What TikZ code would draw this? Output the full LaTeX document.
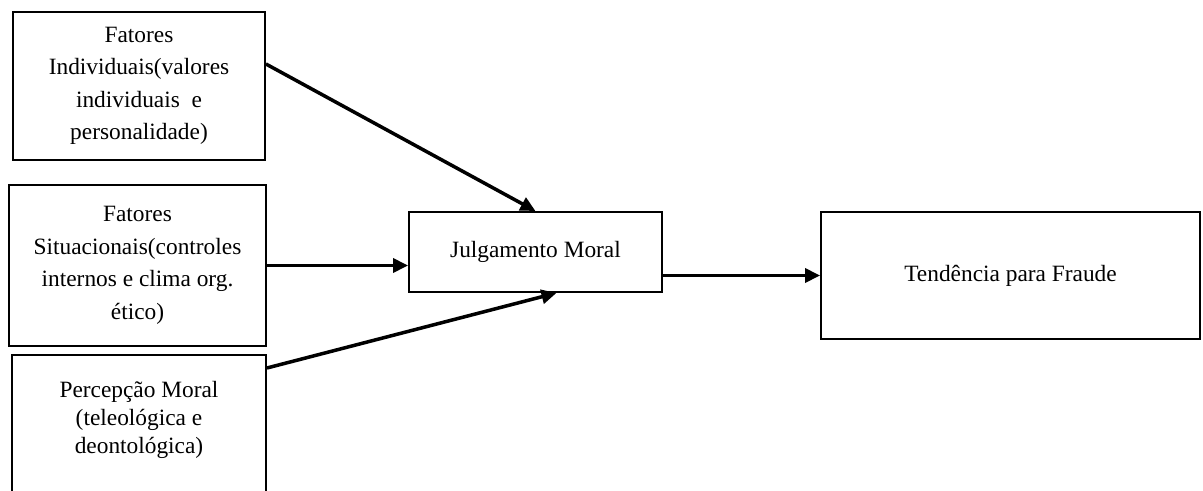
\documentclass[tikz,border=0pt]{standalone}
\usepackage{fontspec}
\setmainfont{Liberation Serif}
\usepackage{tikz}
\usetikzlibrary{positioning, arrows.meta, calc}

\begin{document}
\begin{tikzpicture}[x=0.02cm, y=-0.02cm,
  fator/.style={rectangle, draw=black, line width=1.1pt, align=center, font=\fontsize{13.3}{18.5}\selectfont, inner sep=0pt},
  seta/.style={-{Triangle[length=3mm, width=2.8mm]}, line width=2pt}]

\useasboundingbox (0,0) rectangle (1203,490);

% Fatores individuais
\node[fator, minimum width=5.04cm, minimum height=2.96cm] (indiv) at (139,86) {
    Fatores\\
    Individuais(valores\\
    individuais~ e\\
    personalidade)
};

% Fatores situacionais
\node[fator, minimum width=5.14cm, minimum height=3.22cm] (situ) at (137.5,265.5) {
    Fatores\\
    Situacionais(controles\\
    internos e clima org.\\
    ético)
};

% Percepcao moral (caixa cortada em baixo)
\node[fator, font=\fontsize{13.3}{16}\selectfont, anchor=north, minimum width=5.08cm, text height=1.98cm, text depth=3cm] (percep) at (139,354) {
    Percepção Moral\\
    (teleológica e\\
    deontológica)
};

% Julgamento moral
\node[fator, minimum width=5.06cm, minimum height=1.6cm] (juiz) at (535.5,252) {Julgamento Moral};

% Tendencia para fraude
\node[fator, minimum width=7.58cm, minimum height=2.54cm] (tend) at (1010.5,275.5) {Tendência para Fraude};

% Setas
\draw[seta] ([yshift=0.44cm]indiv.east) -- (juiz.north);
\draw[seta] (situ.east) -- (situ.east -| juiz.west);
\draw[seta] ([yshift=-0.28cm]percep.north east) -- ([xshift=0.42cm]juiz.south);
\draw[seta] (juiz.east |- tend.west) -- (tend.west);

\end{tikzpicture}
\end{document}
